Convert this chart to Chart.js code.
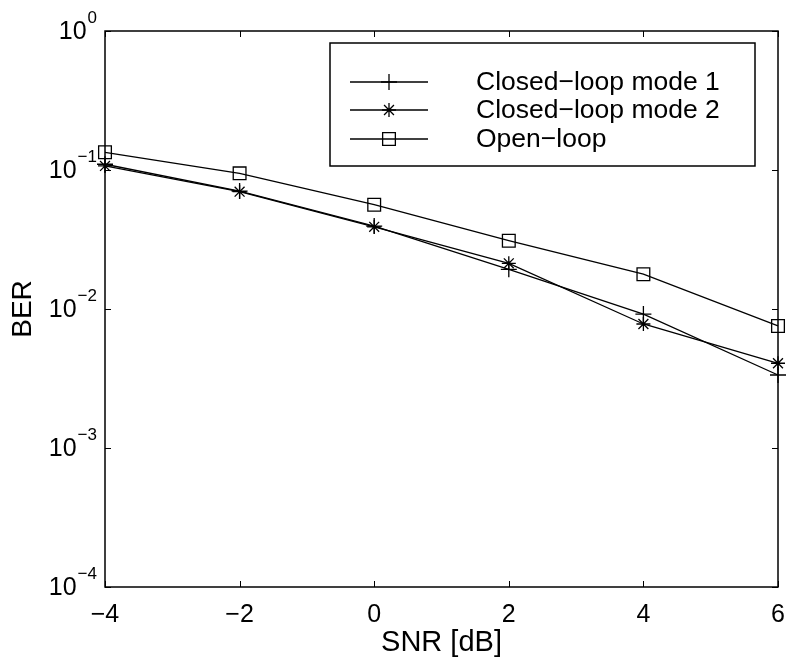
<!DOCTYPE html>
<html>
<head>
<meta charset="utf-8">
<script src="https://cdn.jsdelivr.net/npm/chart.js@4.4.1/dist/chart.umd.min.js"></script>
<style>
  body { margin: 0; background: #fff; }
</style>
</head>
<body>
<canvas id="canvas" width="789" height="660"></canvas>
<script>
const snr = [-4, -2, 0, 2, 4, 6]
const berMode1 = [0.110, 0.0705, 0.0395, 0.0193, 0.0092, 0.00335]
const berMode2 = [0.107, 0.0698, 0.039, 0.0213, 0.0078, 0.00407]
const berOpen = [0.134, 0.0946, 0.0563, 0.031, 0.0178, 0.00755]
const seriesNames = ['Closed\u2212loop mode 1', 'Closed\u2212loop mode 2', 'Open\u2212loop']
const yDecades = [0, -1, -2, -3, -4]
const xTicks = [-4, -2, 0, 2, 4, 6]

const FONT = "'Liberation Sans', Arial, sans-serif"
Chart.defaults.font.family = FONT
Chart.defaults.color = '#000'

function pts(ys) {
  return snr.map((x, i) => ({ x: x, y: ys[i] }))
}

const styles = [
  { pointStyle: 'cross', radius: 8 },
  { pointStyle: 'star', radius: 7 },
  { pointStyle: 'rect', radius: 9 }
]

function makeSet(label, ys, st) {
  return {
    label: label,
    data: pts(ys),
    borderColor: '#000',
    borderWidth: 1.3,
    pointStyle: st.pointStyle,
    pointRadius: st.radius,
    pointBorderColor: '#000',
    pointBorderWidth: 1.3,
    pointBackgroundColor: 'rgba(0,0,0,0)',
    tension: 0,
    clip: false
  }
}

// box, inward ticks, 10^n labels and the legend
const decorations = {
  id: 'decorations',
  afterDraw(chart) {
    const ctx = chart.ctx
    const a = chart.chartArea
    const xs = chart.scales.x
    const ys = chart.scales.y
    ctx.save()
    ctx.strokeStyle = '#000'
    ctx.lineWidth = 1.5
    ctx.strokeRect(a.left, a.top, a.right - a.left, a.bottom - a.top)

    const tl = 6
    ctx.lineWidth = 1
    ctx.beginPath()
    xTicks.forEach(v => {
      const px = Math.round(xs.getPixelForValue(v)) + 0.5
      ctx.moveTo(px, a.bottom); ctx.lineTo(px, a.bottom - tl)
      ctx.moveTo(px, a.top); ctx.lineTo(px, a.top + tl)
    })
    yDecades.forEach(e => {
      const py = Math.round(ys.getPixelForValue(Math.pow(10, e))) + 0.5
      ctx.moveTo(a.left, py); ctx.lineTo(a.left + tl, py)
      ctx.moveTo(a.right, py); ctx.lineTo(a.right - tl, py)
    })
    ctx.stroke()

    // y labels with superscript exponent
    ctx.fillStyle = '#000'
    ctx.textBaseline = 'middle'
    yDecades.forEach(e => {
      const py = ys.getPixelForValue(Math.pow(10, e))
      const exp = e === 0 ? '0' : '\u2212' + (-e)
      ctx.font = '17px ' + FONT
      const ew = ctx.measureText(exp).width
      const ex = a.left - 8 - ew
      ctx.textAlign = 'left'
      ctx.fillText(exp, ex, py - 13)
      ctx.font = '25px ' + FONT
      ctx.textAlign = 'right'
      ctx.fillText('10', ex - 1, py + 1)
    })

    // legend
    const lx = 330, ly = 43, lw = 425, lh = 123
    ctx.fillStyle = '#fff'
    ctx.fillRect(lx, ly, lw, lh)
    ctx.lineWidth = 1.5
    ctx.strokeStyle = '#000'
    ctx.strokeRect(lx, ly, lw, lh)
    const rows = [82, 110, 139]
    chart.data.datasets.forEach((ds, i) => {
      const ry = rows[i]
      ctx.lineWidth = 1.3
      ctx.beginPath()
      ctx.moveTo(350, ry); ctx.lineTo(428, ry)
      ctx.stroke()
      ctx.fillStyle = 'rgba(0,0,0,0)'
      Chart.helpers.drawPoint(ctx, {
        pointStyle: ds.pointStyle,
        radius: ds.pointRadius,
        rotation: 0,
        borderWidth: 1.3
      }, 389, ry)
      ctx.fillStyle = '#000'
      ctx.font = '26.5px ' + FONT
      ctx.textAlign = 'left'
      ctx.textBaseline = 'middle'
      ctx.fillText(ds.label, 476, ry + 1)
    })
    ctx.restore()
  }
}

new Chart(document.getElementById('canvas'), {
  type: 'line',
  data: {
    datasets: [
      makeSet(seriesNames[0], berMode1, styles[0]),
      makeSet(seriesNames[1], berMode2, styles[1]),
      makeSet(seriesNames[2], berOpen, styles[2])
    ]
  },
  options: {
    responsive: false,
    animation: false,
    layout: { padding: { top: 31, right: 11, left: 0, bottom: 0 } },
    plugins: {
      legend: { display: false },
      tooltip: { enabled: false }
    },
    scales: {
      x: {
        type: 'linear',
        min: -4,
        max: 6,
        grid: { display: false, drawTicks: false },
        border: { display: false },
        ticks: {
          stepSize: 2,
          padding: 13,
          font: { size: 25 },
          callback: v => (v < 0 ? '\u2212' + Math.abs(v) : '' + v)
        },
        title: {
          display: true,
          text: 'SNR [dB]',
          font: { size: 29 },
          padding: { top: 0, bottom: 0 }
        },
        afterFit: s => {
          s.height = 73
          s.paddingLeft = 0
          s.paddingRight = 0
        }
      },
      y: {
        type: 'logarithmic',
        min: 1e-4,
        max: 1,
        grid: { display: false, drawTicks: false },
        border: { display: false },
        ticks: { display: false },
        title: {
          display: true,
          text: 'BER',
          font: { size: 28 },
          padding: { top: 6, bottom: 0 }
        },
        afterFit: s => { s.width = 105 }
      }
    }
  },
  plugins: [decorations]
})
</script>
</body>
</html>
